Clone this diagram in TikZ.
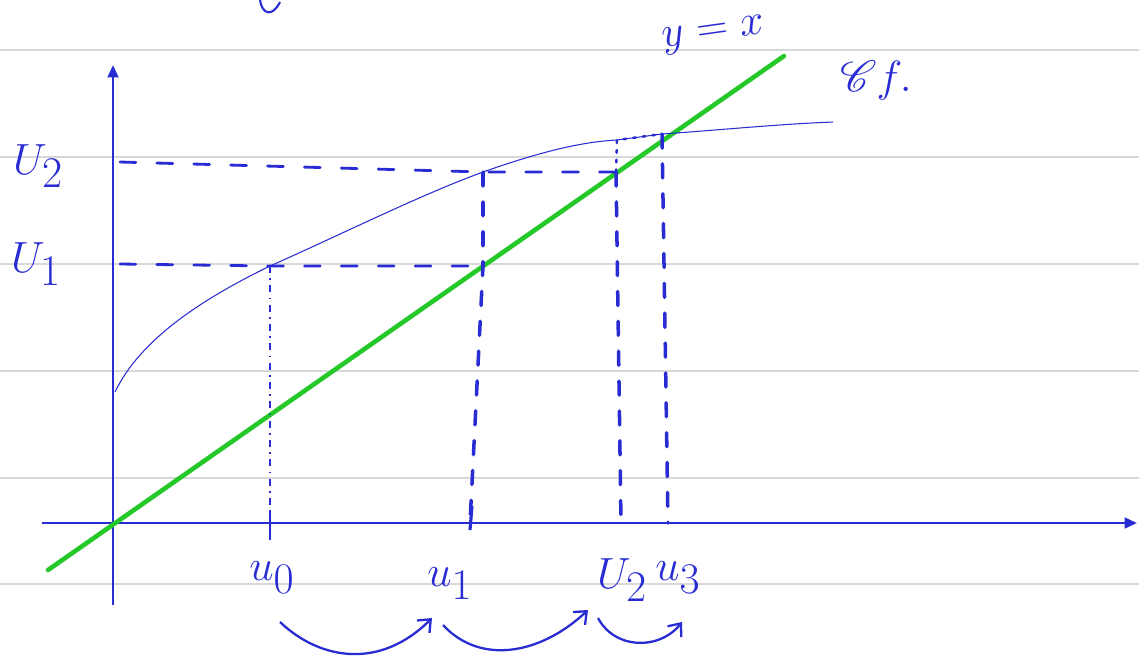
\documentclass[tikz,border=0pt]{standalone}
\usepackage{amsmath,amssymb,mathrsfs}
\usepackage{tikz}
\usetikzlibrary{arrows.meta,calc}

\definecolor{ink}{RGB}{40,44,210}
\definecolor{rule}{RGB}{216,216,216}
\definecolor{lime}{RGB}{36,200,40}

\begin{document}
\begin{tikzpicture}[
    x=0.02cm, y=-0.02cm,
    ruled/.style={draw=rule, line width=1.6pt},
    axis/.style={draw=ink, line width=1.5pt, -{Triangle[length=7pt, width=6pt]}},
    diag/.style={draw=lime, line width=2.6pt, line cap=round},
    graph/.style={draw=ink, line width=0.6pt},
    hdash/.style={draw=ink, line width=1.6pt, dash pattern=on 9pt off 12pt, line cap=round},
    vdash/.style={draw=ink, line width=2pt, dash pattern=on 8pt off 9pt, line cap=round},
    thindash/.style={draw=ink, line width=0.7pt, dash pattern=on 4pt off 3pt on 1pt off 3pt},
    dotline/.style={draw=ink, line width=1.4pt, dash pattern=on 1.5pt off 4pt, line cap=round},
    hop/.style={draw=ink, line width=1.3pt, -{Straight Barb[length=6pt, width=10pt]}},
    lab/.style={text=ink, font=\fontsize{26}{30}\selectfont, inner sep=0pt}
]
    \useasboundingbox (0,0) rectangle (1139,657);

    % ruled paper
    \foreach \yy in {50,157,264,371,478,584}
        \draw[ruled] (0,\yy) -- (1139,\yy);

    % points
    \coordinate (O) at (113,523);
    \coordinate (u0) at (270,523);
    \coordinate (u1) at (470,523);
    \coordinate (u2) at (621,523);
    \coordinate (u3) at (668,523);
    \coordinate (v1) at (120,264);
    \coordinate (v2) at (120,162);
    \coordinate (A0) at (270,266);
    \coordinate (A1) at (483,172);
    \coordinate (A2) at (617,140);
    \coordinate (A3) at (662,134);
    \coordinate (B1) at (483,266);
    \coordinate (B2) at (616,172);

    % axes
    \draw[axis] (113,605) -- (113,65);
    \draw[axis] (42,523) -- (1137,523);

    % y = x
    \draw[diag] (48,570) -- (784,56);

    % graph of f
    \draw[graph] (115,392) .. controls (140,340) and (200,300) .. (A0)
        .. controls (340,235) and (420,195) .. (A1)
        .. controls (540,152) and (580,142) .. (A2)
        -- (A3) .. controls (720,130) and (780,124) .. (833,122);

    % iterations
    \draw[hdash] (v1) -- (A0) -- (B1);
    \draw[hdash] (v2) -- (A1) -- (B2);
    \draw[thindash] (A0) -- (u0);
    \draw[vdash] (A1) -- (B1) -- (u1);
    \draw[vdash] (B2) -- (u2);
    \draw[vdash] (A3) -- (u3);
    \draw[dotline] (B2) -- (A2) -- (A3);

    % ticks
    \draw[draw=ink, line width=1.3pt] (270,512) -- (270,540);
    \draw[draw=ink, line width=1.8pt] (472,506) -- (470,530);

    % labels
    \node[lab] (lu2) at (38,166) {$U_{\textstyle 2}$};
    \node[lab] (lu1) at (36,264) {$U_{\textstyle 1}$};
    \node[lab] (l0) at (272,578) {$u_{\textstyle 0}$};
    \node[lab] (l1) at (450,584) {$u_{\textstyle 1}$};
    \node[lab] (l2) at (622,580) {$U_{\textstyle 2}$};
    \node[lab] (l3) at (678,578) {$u_{\textstyle 3}$};
    \node[lab, rotate=8] (lid) at (714,35) {$y=x$};
    \node[lab, font=\fontsize{34}{38}\selectfont] (lcf) at (876,80) {$\mathscr{C}f.$};

    % jumps
    \coordinate (j0) at (280,622);
    \coordinate (j1) at (432,618);
    \coordinate (j2) at (443,625);
    \coordinate (j3) at (588,610);
    \coordinate (j4) at (598,618);
    \coordinate (j5) at (682,622);
    \draw[hop] (j0) .. controls (320,660) and (380,670) .. (j1);
    \draw[hop] (j2) .. controls (480,665) and (540,655) .. (j3);
    \draw[hop] (j4) .. controls (615,650) and (660,650) .. (j5);

    % cut-off letter at top
    \draw[draw=ink, line width=1.2pt] (260,0) .. controls (262,14) and (272,18) .. (280,2);
\end{tikzpicture}
\end{document}
